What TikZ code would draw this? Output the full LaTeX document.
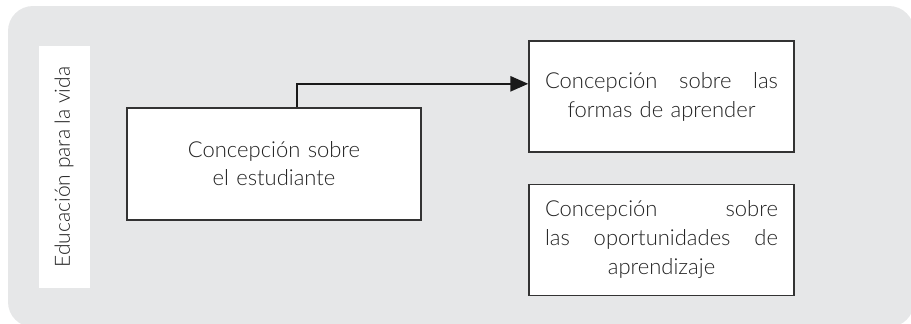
\documentclass[tikz,border=0pt]{standalone}
\usepackage{fontspec}
\setmainfont{Lato Light}
\usetikzlibrary{arrows.meta,calc}
\definecolor{panelgray}{HTML}{E6E7E8}
\definecolor{txtgray}{HTML}{222222}
\definecolor{boxline}{HTML}{333333}
\begin{document}
\begin{tikzpicture}[x=1pt,y=-1pt,
  conbox/.style={draw=boxline,line width=1.3pt,fill=white,minimum width=265pt,
    minimum height=111pt,text width=233pt,align=center,inner sep=0pt,
    font=\fontsize{22}{29}\selectfont,text=txtgray},
  link/.style={line width=2.6pt,draw=black!90,-{Triangle[length=18pt,width=15pt]}}]
\useasboundingbox (0,0) rectangle (911,324);
\begin{scope}
\clip (0,0) rectangle (911,324);
\fill[panelgray,rounded corners=25pt] (8,6) rectangle (914,327);
\end{scope}
\fill[white] (39,46) rectangle (90,288);
\node[rotate=90,text=txtgray,font=\fontsize{21}{24}\selectfont,inner sep=0pt] (side) at (64,167) {Educación para la vida};
\node[conbox,minimum width=294pt,minimum height=112pt,font=\fontsize{22}{28}\selectfont] (est) at (274,164)
  {Concepción sobre\\el estudiante};
\node[conbox] (formas) at (661.5,96.5)
  {\makebox[233pt][s]{Concepción\hfill sobre\hfill las}\\formas de aprender};
\node[conbox] (oport) at (661.5,240)
  {\makebox[233pt][s]{Concepción\hfill sobre}\\\makebox[233pt][s]{las\hfill oportunidades\hfill de}\\aprendizaje};
\coordinate (from) at ($(est.north west)!0.578!(est.north east)$);
\coordinate (to) at ($(formas.north west)!0.387!(formas.south west)$);
\draw[link] (from) |- (to);
\end{tikzpicture}
\end{document}
